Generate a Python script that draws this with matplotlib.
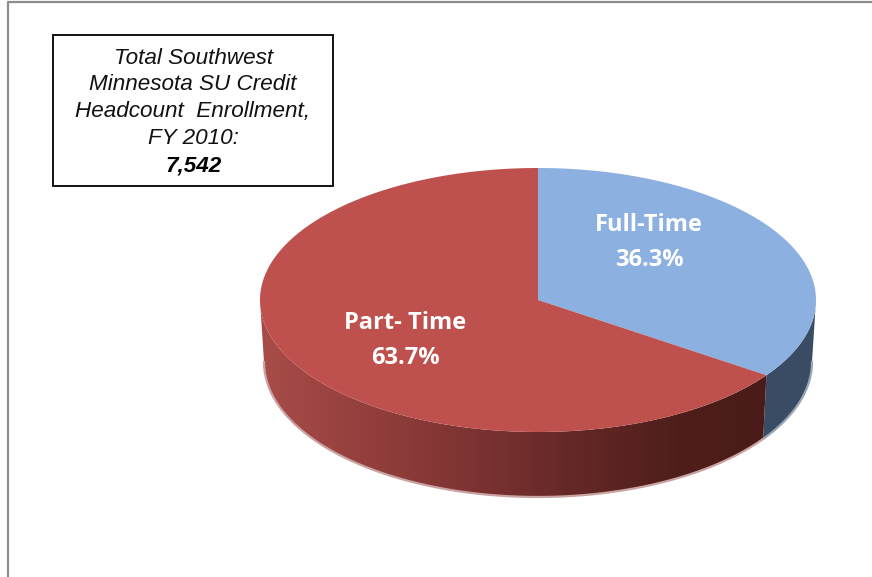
import numpy as np
import matplotlib
matplotlib.use("Agg")
import matplotlib.pyplot as plt
from matplotlib.colors import LinearSegmentedColormap
from matplotlib.patches import Polygon, Rectangle

# values
categories = ["Full-Time", "Part- Time"]
shares = [36.3, 63.7]
box_lines = ["Total Southwest", "Minnesota SU Credit", "Headcount  Enrollment,", "FY 2010:"]
box_total = "7,542"

TOP = (538, 300, 278, 132)
BOTTOM = (538, 362, 274, 135)


def project(ell, deg):
    # deg is clockwise from 12 o'clock
    cx, cy, rx, ry = ell
    t = np.radians(deg)
    return np.column_stack([cx + rx * np.sin(t), cy - ry * np.cos(t)])


def tilt(deg):
    # the 3d view squeezes angles a bit
    return deg + 6.0 * np.sin(np.radians(2 * deg))


def wall(a, b):
    t = np.linspace(a, b, 150)
    return np.vstack([project(TOP, t), project(BOTTOM, t[::-1])])


fig = plt.figure(figsize=(8.72, 5.77), dpi=100)
ax = fig.add_axes([0, 0, 1, 1])
ax.set_xlim(0, 872)
ax.set_ylim(577, 0)
ax.axis("off")

# outer chart frame, only top and left show
ax.plot([8, 8, 872], [577, 1.5, 1.5], color="#8c8c8c", lw=1.6, zorder=1)

split = tilt(360 * shares[0] / sum(shares))

# side walls
blue_wall = Polygon(wall(90, split), fc="#3A4C63", ec="none", zorder=2)
ax.add_patch(blue_wall)

shade = LinearSegmentedColormap.from_list(
    "shade",
    [(0, "#A94C48"), (0.28, "#8C3B39"), (0.58, "#692A29"), (0.82, "#4F1E1B"), (1, "#4A1B18")],
)
red_wall = Polygon(wall(split, 270), fc="none", ec="none", zorder=3)
ax.add_patch(red_wall)
grad = ax.imshow(
    np.linspace(0, 1, 256).reshape(1, -1),
    extent=[260, 766, 500, 300],
    cmap=shade,
    aspect="auto",
    zorder=3,
)
grad.set_clip_path(red_wall)
ax.set_xlim(0, 872)
ax.set_ylim(577, 0)

# pale fringe along the lower edge
t = np.linspace(90, split, 60)
edge = project(BOTTOM, t)
ax.plot(edge[:, 0], edge[:, 1], color="#9aa6b4", lw=1.6, zorder=3)
t = np.linspace(split, 270, 200)
edge = project(BOTTOM, t)
ax.plot(edge[:, 0], edge[:, 1], color="#c9a3a1", lw=1.6, zorder=3)

# top faces
t = np.linspace(0, split, 150)
top_blue = np.vstack([[TOP[:2]], project(TOP, t)])
ax.add_patch(Polygon(top_blue, fc="#8CB0E0", ec="none", zorder=5))
t = np.linspace(split, 360, 300)
top_red = np.vstack([[TOP[:2]], project(TOP, t)])
ax.add_patch(Polygon(top_red, fc="#BE504D", ec="none", zorder=6))

# slice labels
label_font = dict(family="Open Sans", weight="bold", color="white", size=17,
                  ha="center", va="center", zorder=8)
ax.text(649, 225, categories[0], **label_font)
ax.text(649, 260, f"{shares[0]}%", **label_font)
ax.text(405, 323, categories[1], **label_font)
ax.text(405, 358, f"{shares[1]}%", **label_font)

# enrollment box
ax.add_patch(Rectangle((52.5, 35), 280.5, 151, fc="white", ec="black", lw=1.3, zorder=9))
line_y = [58, 85, 112, 139]
line_x = [194, 193, 192, 193]
for x, y, s in zip(line_x, line_y, box_lines):
    ax.text(x, y, s, family="Liberation Sans", style="italic", size=16.2,
            ha="center", va="center", color="#111111", zorder=10)
ax.text(194, 166, box_total, family="Liberation Sans", style="italic", weight="bold",
        size=16.2, ha="center", va="center", color="black", zorder=10)

fig.savefig("out.png", dpi=100)
